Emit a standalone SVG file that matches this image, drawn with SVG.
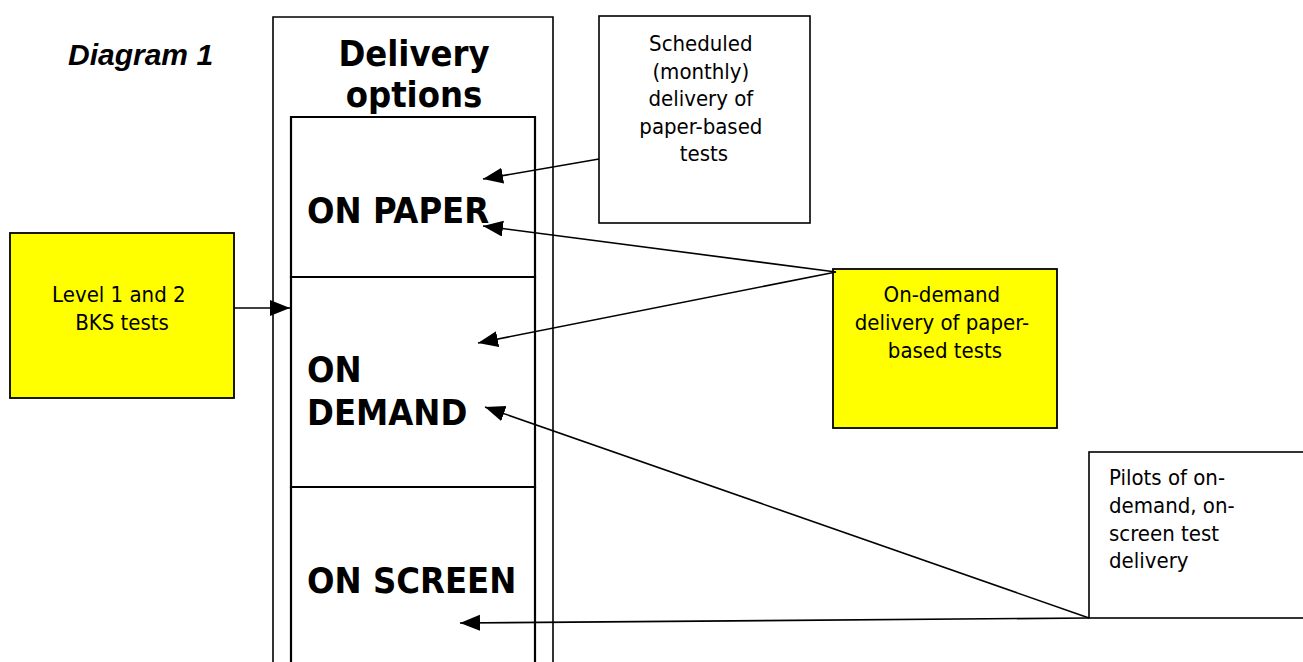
<svg xmlns="http://www.w3.org/2000/svg" width="1303" height="662" viewBox="0 0 1303 662">
<defs>
<style>
.box{fill:#fff;stroke:#000;stroke-width:1.6}
.ybox{fill:#ffff00;stroke:#000;stroke-width:1.8}
.frame{fill:none;stroke:#000;stroke-width:1.6}
.inner{fill:none;stroke:#000;stroke-width:2.2}
.conn{fill:none;stroke:#000;stroke-width:1.6;marker-end:url(#ah)}
.t{font-family:"DejaVu Sans Condensed","DejaVu Sans",sans-serif;font-stretch:condensed;font-size:22px;fill:#000}
.b{font-family:"DejaVu Sans Condensed","DejaVu Sans",sans-serif;font-stretch:condensed;font-weight:bold;font-size:36px;fill:#000}
.title{font-family:"Liberation Sans",Arial,sans-serif;font-weight:bold;font-style:italic;font-size:30px;fill:#000}
</style>
<marker id="ah" markerUnits="userSpaceOnUse" markerWidth="22" markerHeight="18" refX="20" refY="8" orient="auto">
<path d="M0,0 L20,8 L0,16 z" fill="#000"/>
</marker>
</defs>

<g id="title">
<text class="title" x="68" y="65">Diagram 1</text>
</g>

<g id="delivery-options">
<path class="frame" d="M273,663 V17 H553 V663"/>
<text class="b" x="414" y="66" text-anchor="middle">Delivery</text>
<text class="b" x="414" y="107" text-anchor="middle">options</text>
</g>

<g id="on-paper">
<path class="inner" d="M291,277 V117 H535 V277 Z"/>
<text class="b" x="307" y="223">ON PAPER</text>
</g>

<g id="on-demand">
<path class="inner" d="M291,277 H535 V487 H291 Z"/>
<text class="b" x="307" y="382">ON</text>
<text class="b" x="307" y="425">DEMAND</text>
</g>

<g id="on-screen">
<path class="inner" d="M291,663 V487 H535 V663"/>
<text class="b" x="307" y="593">ON SCREEN</text>
</g>

<g id="scheduled">
<rect class="box" x="599" y="16" width="211" height="207"/>
<text class="t" text-anchor="middle">
<tspan x="704" y="51">Scheduled</tspan>
<tspan x="704" y="78.5">(monthly)</tspan>
<tspan x="704" y="106">delivery of</tspan>
<tspan x="704" y="133.5">paper-based</tspan>
<tspan x="704" y="161">tests</tspan>
</text>
</g>

<g id="bks">
<rect class="ybox" x="10" y="233" width="224" height="165"/>
<text class="t" text-anchor="middle">
<tspan x="122" y="302">Level 1 and 2</tspan>
<tspan x="122" y="330">BKS tests</tspan>
</text>
</g>

<g id="on-demand-paper">
<rect class="ybox" x="833" y="269" width="224" height="159"/>
<text class="t" text-anchor="middle">
<tspan x="945" y="302">On-demand</tspan>
<tspan x="945" y="330">delivery of paper-</tspan>
<tspan x="945" y="358">based tests</tspan>
</text>
</g>

<g id="pilots">
<rect class="box" x="1089" y="452" width="220" height="166"/>
<text class="t">
<tspan x="1109" y="485">Pilots of on-</tspan>
<tspan x="1109" y="513">demand, on-</tspan>
<tspan x="1109" y="541">screen test</tspan>
<tspan x="1109" y="568">delivery</tspan>
</text>
</g>

<g id="connectors">
<line class="conn" x1="234" y1="308" x2="290" y2="308"/>
<line class="conn" x1="599" y1="159" x2="483" y2="179"/>
<line class="conn" x1="836" y1="272" x2="483" y2="226"/>
<line class="conn" x1="836" y1="272" x2="478" y2="343"/>
<line class="conn" x1="1089" y1="618" x2="485" y2="407"/>
<line class="conn" x1="1089" y1="618" x2="460" y2="623"/>
</g>
</svg>
